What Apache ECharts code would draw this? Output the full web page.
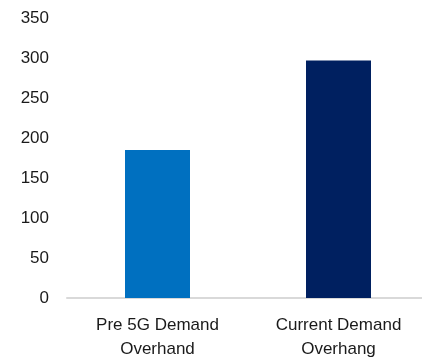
<!DOCTYPE html>
<html>
<head>
<meta charset="utf-8">
<script src="https://cdn.jsdelivr.net/npm/echarts@6/dist/echarts.min.js"></script>
<style>
  html, body { margin: 0; padding: 0; background: #fff; }
  #chart { width: 422px; height: 358px; }
</style>
</head>
<body>
<div id="chart"></div>
<script>
// categories and values
const categories = ['Pre 5G Demand\nOverhand', 'Current Demand\nOverhang']
const values = [185, 297]
const barColors = ['#0070C0', '#002060']
const yTicks = [0, 50, 100, 150, 200, 250, 300, 350]

const fontFamily = '"Liberation Sans", Arial, sans-serif'
const textColor = '#1a1a1a'

const myChart = echarts.init(document.getElementById('chart'))

myChart.setOption({
  animation: false,
  grid: { left: 67, top: 18, bottom: 60, right: -7, outerBoundsMode: 'none', containLabel: false },
  xAxis: {
    type: 'category',
    data: categories,
    axisLine: { show: true, lineStyle: { color: '#d9d9d9', width: 2 } },
    axisTick: { show: false },
    axisLabel: {
      color: textColor,
      fontFamily: fontFamily,
      fontSize: 17,
      lineHeight: 24,
      margin: 15
    }
  },
  yAxis: {
    type: 'value',
    min: yTicks[0],
    max: yTicks[yTicks.length - 1],
    interval: 50,
    axisLine: { show: false },
    axisTick: { show: false },
    splitLine: { show: false },
    axisLabel: {
      color: textColor,
      fontFamily: fontFamily,
      fontSize: 17,
      margin: 18
    }
  },
  series: [{
    type: 'bar',
    barWidth: 65,
    data: values.map((v, i) => ({ value: v, itemStyle: { color: barColors[i] } }))
  }]
})
</script>
</body>
</html>
